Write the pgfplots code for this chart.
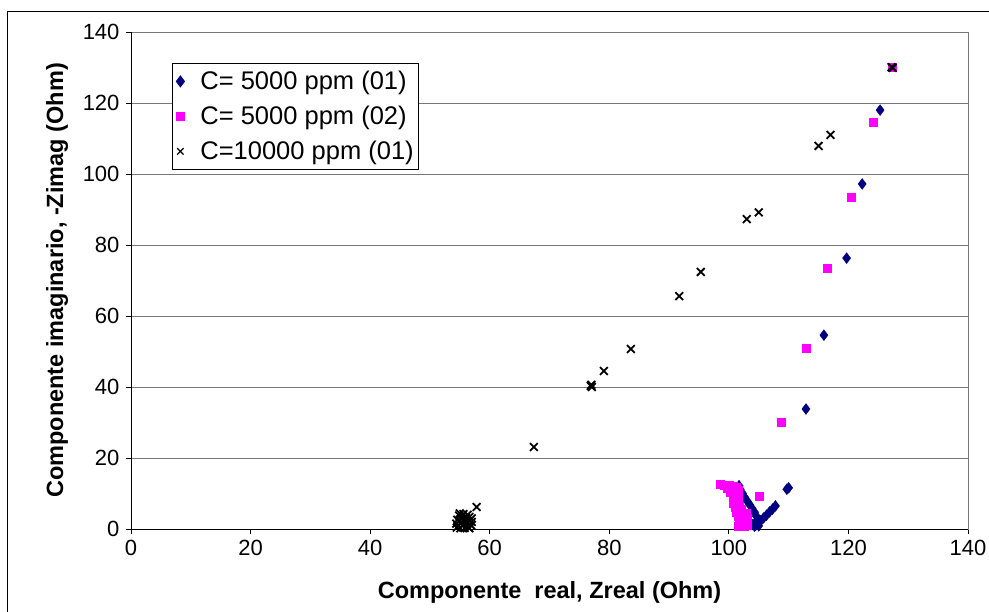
\documentclass[border=0pt]{standalone}
\usepackage{pgfplots}
\pgfplotsset{compat=1.18}
\usepackage{fontspec}
\setmainfont{Liberation Sans}
\definecolor{navyb}{RGB}{0,0,128}
\definecolor{magp}{RGB}{255,0,255}
\definecolor{gridg}{RGB}{120,120,120}
\begin{document}
\begin{tikzpicture}
\path[use as bounding box] (-131pt,-83pt) rectangle (858pt,529pt);
\begin{axis}[
  at={(0,0)}, anchor=south west,
  scale only axis, width=837pt, height=497pt,
  xmin=0, xmax=140, ymin=0, ymax=140,
  xtick={0,20,...,140}, ytick={0,20,...,140},
  ymajorgrids, grid style={gridg, line width=0.8pt},
  axis line style={gridg, line width=0.8pt},
  tick align=outside, major tick length=5pt,
  tick style={black, line width=0.8pt},
  xtick pos=bottom, ytick pos=left,
  /pgf/number format/assume math mode=true,
  ticklabel style={font=\fontsize{22}{26}\selectfont},
  xticklabel style={yshift=-3pt},
  yticklabel style={xshift=-3pt},
  xlabel={\bfseries Componente\ \ real, Zreal (Ohm)},
  ylabel={\bfseries Componente imaginario, -Zimag (Ohm)},
  label style={font=\fontsize{23.5}{27}\selectfont},
  xlabel style={at={(axis description cs:0.5,-0.1268)}, anchor=center},
  ylabel style={at={(axis description cs:-0.0884,0.5)}, anchor=center},
  legend style={at={(0.049,0.9376)}, anchor=north west, draw=black, fill=white,
    font=\fontsize{25.5}{30}\selectfont, row sep=11pt, inner xsep=3pt, inner ysep=6pt,
    line width=0.8pt},
  legend image code/.code={\path[draw=none] (0pt,0pt) -- (23pt,0pt); \draw[#1] plot coordinates {(5pt,0pt)};},
  legend cell align=left,
  clip=false,
]
\addlegendimage{only marks, mark=diamond*, mark size=5.5pt, color=navyb}
\addlegendentry{C= 5000 ppm (01)}
\addlegendimage{only marks, mark=square*, mark size=4pt, color=magp}
\addlegendentry{C= 5000 ppm (02)}
\addlegendimage{only marks, mark=x, mark size=4.5pt, color=black, mark options={line width=1.2pt}}
\addlegendentry{C=10000 ppm (01)}
\addplot[forget plot, only marks, mark=diamond*, mark size=5.5pt, color=navyb, mark options={line width=0.3pt}] coordinates {
(125.3,118.0) (122.3,97.2) (119.7,76.3) (115.9,54.6) (112.9,33.8)
(110.0,11.6) (109.7,11.2)
(107.8,6.5) (107.3,5.6) (106.8,4.8) (106.3,3.9) (105.8,3.1) (105.3,2.3)
(104.9,1.7) (104.5,1.1) (104.3,0.8) (104.0,1.2) (105.0,0.9)
(104.6,1.6) (104.8,2.6) (104.6,3.6) (104.3,4.7) (103.9,5.8) (103.5,6.8)
(103.1,7.8) (102.7,8.8) (102.3,10.0) (101.9,11.2) (101.7,12.2)
};
\addplot[forget plot, only marks, mark=square*, mark size=4pt, color=magp] coordinates {
(127.3,130.2) (124.2,114.6) (120.5,93.5) (116.5,73.5) (112.9,51.0) (108.8,30.1)
(105.0,9.3)
(98.5,12.5) (99.2,12.4) (100.0,12.3) (100.7,12.1) (101.3,11.8) (101.5,11.0)
(99.8,11.4) (100.3,10.3) (100.8,9.3) (101.3,9.8) (101.6,9.0) (101.0,8.2)
(101.4,7.3) (101.8,6.4) (102.1,5.5) (102.4,4.5) (102.6,3.5) (102.7,2.5)
(102.8,1.5) (102.6,0.8) (101.6,0.9) (101.7,2.2) (101.5,3.5) (101.3,4.8)
(101.0,6.0) (100.7,7.2) (102.9,4.5) (103.1,3.0) (103.0,1.0)
};
\addplot[forget plot, only marks, mark=x, mark size=5.5pt, color=black, mark options={line width=1.8pt}] coordinates {
(127.2,130.1) (127.4,129.9) (117.0,111.0) (115.0,107.9) (105.0,89.2) (103.0,87.3)
(95.3,72.4) (91.7,65.6) (83.6,50.7) (79.1,44.5) (77.0,40.6) (77.1,40.0) (76.9,40.3)
(67.4,23.1) (57.8,6.2)
(54.5,0.4) (55.1,0.2) (55.8,0.3) (56.4,0.5) (56.9,1.0) (54.4,1.5) (55.5,1.2)
(56.2,1.8) (57.0,2.0) (54.6,2.6) (55.3,2.9) (56.0,3.1) (56.6,3.4) (54.9,3.8)
(55.6,4.2) (56.3,4.0) (57.0,3.0) (55.2,1.9) (55.9,2.3) (55.0,4.4) (56.6,0.2)
};
\draw[black, line width=0.8pt] (rel axis cs:0,1) -- (rel axis cs:0,0) -- (rel axis cs:1,0);
\end{axis}
\draw[black, line width=0.8pt] (-124pt,-90pt) -- (-124pt,518pt) -- (865pt,518pt);
\end{tikzpicture}
\end{document}
